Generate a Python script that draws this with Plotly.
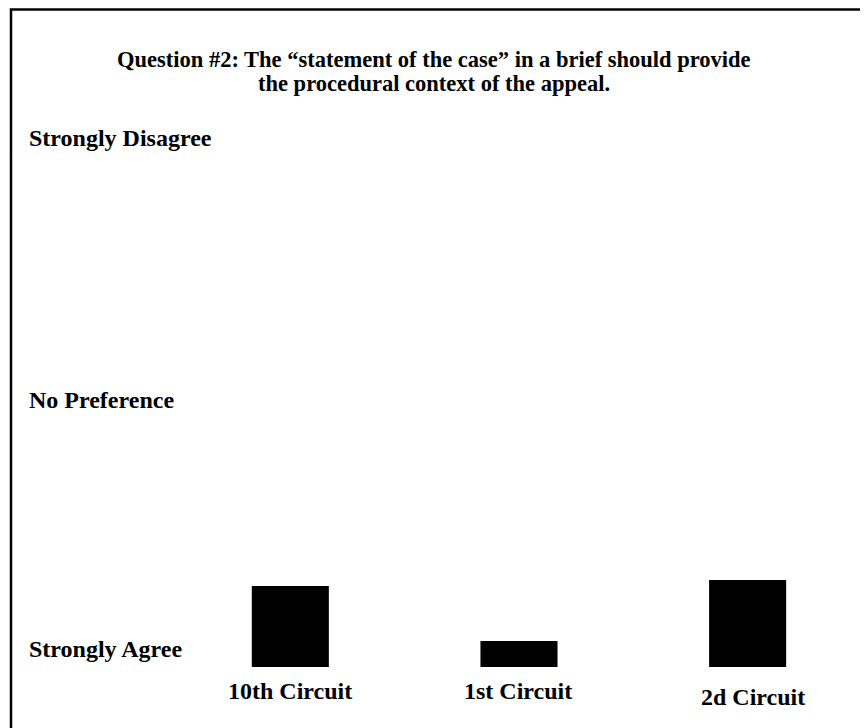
import plotly.graph_objects as go

# ---- data ----
categories = ["10th Circuit", "1st Circuit", "2d Circuit"]
mean_response = [1.635, 1.204, 1.682]   # 1 = Strongly Agree, 3 = No Preference, 5 = Strongly Disagree
scale_labels = ["Strongly Disagree", "No Preference", "Strongly Agree"]
title_lines = ["Question #2: The \u201cstatement of the case\u201d in a brief should provide",
               "the procedural context of the appeal."]

# ---- geometry (page pixels -> paper coords) ----
OFF = 8
W, H = 868, 728
ML, MR, MT, MB = 168, 26, 122, 69
PW = W - ML - MR
PH = H - MT - MB


def px(page_x):
    return (page_x - OFF - ML) / PW


def py(page_y):
    return (H - MB - (page_y - OFF)) / PH


FONT = "Liberation Serif"
fig = go.Figure()
fig.add_trace(go.Bar(x=categories, y=mean_response, width=0.337,
                     marker=dict(color="black", line=dict(width=0)),
                     hoverinfo="skip"))

anns = []
for txt, y in zip(title_lines, [59, 83]):
    anns.append(dict(text="<b>%s</b>" % txt, xref="paper", yref="paper",
                     x=px(434), y=py(y), xanchor="center", yanchor="middle",
                     showarrow=False, font=dict(family=FONT, size=22.5, color="black")))
for txt, y in zip(scale_labels, [138, 400, 648.5]):
    anns.append(dict(text="<b>%s</b>" % txt, xref="paper", yref="paper",
                     x=px(27), y=py(y), xanchor="left", yanchor="middle",
                     showarrow=False, font=dict(family=FONT, size=24, color="black")))
for cat, y, dx in zip(categories, [691, 691, 697], [0, -1, 5]):
    anns.append(dict(text="<b>%s</b>" % cat, xref="x", yref="paper",
                     x=cat, y=py(y), xanchor="center", yanchor="middle", xshift=dx,
                     showarrow=False, font=dict(family=FONT, size=24, color="black")))

fig.update_layout(
    width=W, height=H, autosize=False,
    margin=dict(l=ML, r=MR, t=MT, b=MB, pad=0),
    paper_bgcolor="white", plot_bgcolor="white",
    showlegend=False,
    annotations=anns,
    shapes=[dict(type="rect", xref="paper", yref="paper",
                 x0=px(11), x1=px(900), y0=py(760), y1=py(9.5),
                 line=dict(color="black", width=2.5), layer="above")],
    xaxis=dict(range=[-0.5, 2.4477], showticklabels=False, showgrid=False,
               zeroline=False, showline=False, ticks=""),
    yaxis=dict(range=[1, 1 + PH / 127.6], showticklabels=False, showgrid=False,
               zeroline=False, showline=False, ticks=""),
)

fig.write_html("out.html")
